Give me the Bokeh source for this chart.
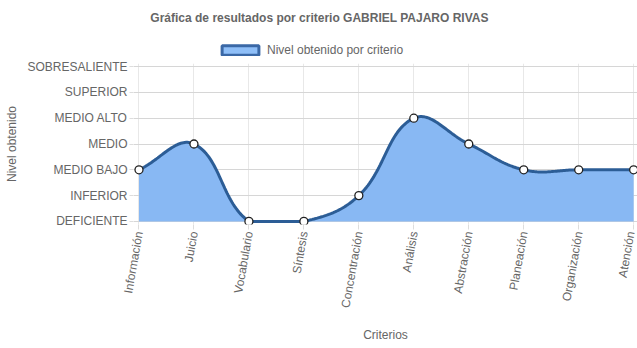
import numpy as np
from bokeh.plotting import figure
from bokeh.layouts import column
from bokeh.models import Range1d, FixedTicker, Legend, LegendItem, Label
from bokeh.embed import file_html
from bokeh.resources import INLINE

# ---- data ----
criterios = ["Información", "Juicio", "Vocabulario", "Síntesis", "Concentración",
             "Análisis", "Abstracción", "Planeación", "Organización", "Atención"]
niveles = ["DEFICIENTE", "INFERIOR", "MEDIO BAJO", "MEDIO", "MEDIO ALTO",
           "SUPERIOR", "SOBRESALIENTE"]
valores = [2, 3, 0, 0, 1, 4, 3, 2, 2, 2]

titulo = "Gráfica de resultados por criterio GABRIEL PAJARO RIVAS"
serie = "Nivel obtenido por criterio"
eje_x = "Criterios"
eje_y = "Nivel obtenido"

FONT = "Liberation Sans"
GREY = "#666666"
FILL = "#88b8f3"
LINE = "#2c5d96"
LEFT = 133   # left border of the plotting area (px)
HEAD_H = 58  # height of the header strip (px)


def chartjs_curve(xv, yv, sx=55.0, sy=25.83, tension=0.4, ymin=0, ymax=6, xmin=0, xmax=9, n=40):
    """Cubic Bezier spline as drawn by Chart.js (tension 0.4, control points capped)."""
    P = np.column_stack([np.asarray(xv, float) * sx, np.asarray(yv, float) * sy])
    m = len(P)
    cprev = np.zeros_like(P)
    cnext = np.zeros_like(P)
    for i in range(m):
        prev = P[i - 1] if i > 0 else P[i]
        nxt = P[i + 1] if i < m - 1 else P[i]
        cur = P[i]
        d01 = np.hypot(*(cur - prev))
        d12 = np.hypot(*(nxt - cur))
        tot = d01 + d12
        s01 = d01 / tot if tot else 0.0
        s12 = d12 / tot if tot else 0.0
        cprev[i] = cur - tension * s01 * (nxt - prev)
        cnext[i] = cur + tension * s12 * (nxt - prev)
    for c in (cprev, cnext):
        c[:, 0] = np.clip(c[:, 0], xmin * sx, xmax * sx)
        c[:, 1] = np.clip(c[:, 1], ymin * sy, ymax * sy)
    t = np.linspace(0, 1, n)[:, None]
    pts = []
    for i in range(m - 1):
        a, b, c, d = P[i], cnext[i], cprev[i + 1], P[i + 1]
        seg = ((1 - t) ** 3) * a + 3 * ((1 - t) ** 2) * t * b + 3 * (1 - t) * t ** 2 * c + t ** 3 * d
        pts.append(seg if i == 0 else seg[1:])
    pts = np.vstack(pts)
    return pts[:, 0] / sx, pts[:, 1] / sy


xi = list(range(len(criterios)))
cx, cy = chartjs_curve(xi, valores)

# ---- header: title + legend (page pixel coordinates) ----
head = figure(width=637, height=HEAD_H, x_range=Range1d(LEFT, 637), y_range=Range1d(0, HEAD_H),
              x_axis_type=None, y_axis_type=None, title=None,
              output_backend="svg", toolbar_location=None,
              min_border=0, min_border_left=LEFT, min_border_right=0,
              min_border_top=0, min_border_bottom=0)
head.outline_line_color = None
head.add_layout(Label(x=319, y=HEAD_H - 17, text=titulo, text_align="center",
                      text_baseline="middle", text_font=FONT, text_font_size="12px",
                      text_font_style="bold", text_color=GREY))
swatch = head.quad(left=[0], right=[len(criterios) - 1], bottom=[0], top=[max(valores)],
                   fill_color="#8fbff8", line_color="#3a68a6", line_width=3, visible=False)
legend = Legend(items=[LegendItem(label=serie, renderers=[swatch])],
                orientation="horizontal", location=(217 - LEFT, 1),
                glyph_width=46, glyph_height=12, label_height=12,
                label_text_font=FONT, label_text_font_size="12px",
                label_text_color=GREY, label_standoff=4,
                padding=0, margin=0, spacing=0, click_policy="none",
                border_line_color=None, background_fill_alpha=0)
head.add_layout(legend, "center")

# ---- main chart ----
p = figure(width=637, height=348 - HEAD_H, title=None,
           x_range=Range1d(-0.1, 9.07), y_range=Range1d(-0.12, 6.12),
           output_backend="svg", toolbar_location=None,
           min_border_left=LEFT, min_border_right=0,
           min_border_top=63 - HEAD_H, min_border_bottom=124)
p.outline_line_color = None
p.background_fill_color = "white"
p.border_fill_color = "white"

p.varea(x=cx, y1=np.zeros_like(cy), y2=cy, fill_color=FILL, fill_alpha=1.0)
p.line(cx, cy, line_color=LINE, line_width=3)
p.scatter(xi, valores, size=8, fill_color="white", line_color="#222222", line_width=1.3)

p.xaxis.ticker = FixedTicker(ticks=xi)
p.xaxis.major_label_overrides = {i: c for i, c in enumerate(criterios)}
p.xaxis.major_label_orientation = float(np.deg2rad(80))
p.yaxis.ticker = FixedTicker(ticks=list(range(len(niveles))))
p.yaxis.major_label_overrides = {i: n for i, n in enumerate(niveles)}

for ax in (p.xaxis, p.yaxis):
    ax.axis_line_color = None
    ax.minor_tick_line_color = None
    ax.major_tick_in = 0
    ax.major_tick_line_color = "#dddddd"
    ax.major_label_text_font = FONT
    ax.major_label_text_font_size = "12px"
    ax.major_label_text_color = GREY
    ax.axis_label_text_font = FONT
    ax.axis_label_text_font_size = "12px"
    ax.axis_label_text_color = GREY
    ax.axis_label_text_font_style = "normal"

p.xaxis.major_tick_out = 5
p.xaxis.major_label_standoff = 2
p.xaxis.axis_label = eje_x
p.xaxis.axis_label_standoff = 15
p.yaxis.major_tick_out = 4
p.yaxis.major_label_standoff = 2
p.yaxis.axis_label = eje_y
p.yaxis.axis_label_standoff = 5

p.xgrid.ticker = FixedTicker(ticks=xi)
p.ygrid.ticker = FixedTicker(ticks=list(range(len(niveles))))
p.xgrid.grid_line_color = "#e8e8e8"
p.ygrid.grid_line_color = "#d6d6d6"

open("out.html", "w").write(file_html(column(head, p, spacing=0), INLINE))
